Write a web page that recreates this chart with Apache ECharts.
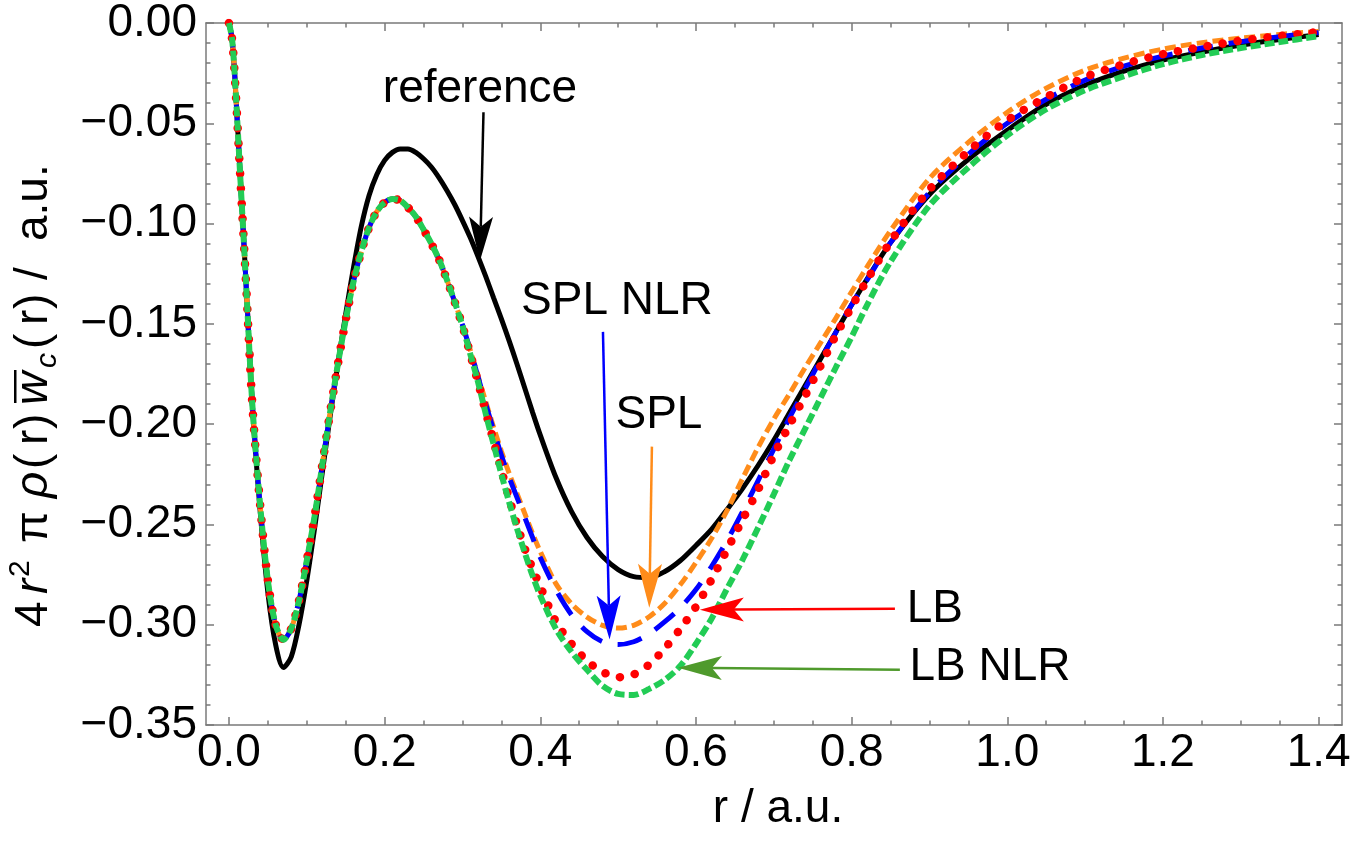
<!DOCTYPE html>
<html>
<head>
<meta charset="utf-8">
<script src="https://cdn.jsdelivr.net/npm/echarts@6.0.0/dist/echarts.min.js"></script>
<style>
  html, body { margin: 0; padding: 0; background: #fff; }
  #chart { width: 1355px; height: 842px; }
</style>
</head>
<body>
<div id="chart"></div>
<script>
// r grid (a.u.) shared by every curve
const rValues = [
  0, 0.004, 0.008, 0.015, 0.022,
  0.03, 0.04, 0.05, 0.06, 0.07, 0.08, 0.09, 0.10, 0.11, 0.12, 0.13, 0.14, 0.15, 0.16, 0.17,
  0.18, 0.19, 0.20, 0.21, 0.22, 0.23, 0.24, 0.25, 0.26, 0.27, 0.28, 0.29, 0.30, 0.31, 0.32,
  0.33, 0.34, 0.35, 0.36, 0.37, 0.38, 0.39, 0.40,
  0.42, 0.44, 0.46, 0.48, 0.50, 0.52, 0.54, 0.56, 0.58, 0.60, 0.62, 0.64, 0.66, 0.68, 0.70,
  0.72, 0.74, 0.76, 0.78, 0.80, 0.82,
  0.85, 0.90, 0.95, 1.00, 1.05, 1.10, 1.15, 1.20, 1.25, 1.30, 1.35, 1.40
]

// reference curve (black, solid)
const referenceValues = [
  0, -0.008, -0.03, -0.08, -0.13,
  -0.19, -0.243, -0.284, -0.310, -0.3213, -0.316, -0.300, -0.278, -0.252, -0.224, -0.196, -0.170, -0.145, -0.122, -0.1015,
  -0.086, -0.0755, -0.0685, -0.0645, -0.0628, -0.0628, -0.0645, -0.0677, -0.0718, -0.0772, -0.0835, -0.0905, -0.0985, -0.107, -0.1165,
  -0.1265, -0.137, -0.1475, -0.1585, -0.170, -0.182, -0.194, -0.2055,
  -0.2265, -0.2435, -0.2565, -0.266, -0.2725, -0.276, -0.2765, -0.2735, -0.268, -0.2605, -0.2525, -0.2425, -0.232, -0.2205, -0.208,
  -0.1945, -0.181, -0.1675, -0.154, -0.1405, -0.1275,
  -0.1095, -0.0855, -0.068, -0.0535, -0.0405, -0.031, -0.024, -0.0185, -0.0145, -0.011, -0.0082, -0.0058
]

// the four approximations coincide up to r = 0.29
const sharedCore = [
  0, -0.008, -0.03, -0.08, -0.13,
  -0.19, -0.24, -0.278, -0.300, -0.3075, -0.302, -0.288, -0.268, -0.246, -0.220, -0.194, -0.170, -0.148, -0.129, -0.114,
  -0.102, -0.094, -0.0895, -0.0878, -0.0885, -0.092, -0.0965, -0.103, -0.110, -0.118, -0.128, -0.139
]

// r = 0.30 ... 1.40
const splTail = [
  -0.1505, -0.163, -0.176, -0.189, -0.2015, -0.2135, -0.2245, -0.2345, -0.2445, -0.2545, -0.2635,
  -0.2795, -0.2895, -0.2962, -0.3003, -0.3017, -0.3003, -0.296, -0.2893, -0.280, -0.269, -0.257, -0.243, -0.227, -0.2115, -0.1975,
  -0.185, -0.172, -0.1595, -0.147, -0.134, -0.1215,
  -0.1035, -0.0775, -0.0595, -0.0445, -0.0325, -0.0235, -0.0175, -0.013, -0.0098, -0.0075, -0.0057, -0.0042
]
const splNlrTail = [
  -0.1505, -0.163, -0.1765, -0.190, -0.203, -0.2155, -0.2265, -0.2365, -0.2465, -0.2565, -0.2665,
  -0.2825, -0.295, -0.3035, -0.3085, -0.3099, -0.3085, -0.3045, -0.2985, -0.2915, -0.2825, -0.271, -0.258, -0.2435, -0.228, -0.2125,
  -0.197, -0.1825, -0.168, -0.154, -0.1405, -0.128,
  -0.1095, -0.0845, -0.0655, -0.050, -0.038, -0.0285, -0.0215, -0.0165, -0.0125, -0.0093, -0.0068, -0.0048
]
const lbTail = [
  -0.151, -0.165, -0.179, -0.194, -0.2085, -0.223, -0.237, -0.250, -0.262, -0.272, -0.281,
  -0.2985, -0.3095, -0.318, -0.3235, -0.3262, -0.3248, -0.3198, -0.3118, -0.302, -0.291, -0.2775, -0.2625, -0.2475, -0.2325, -0.2155,
  -0.2005, -0.186, -0.171, -0.1555, -0.1415, -0.128,
  -0.109, -0.083, -0.064, -0.0485, -0.037, -0.027, -0.0205, -0.0155, -0.012, -0.0088, -0.0065, -0.0045
]
const lbNlrTail = [
  -0.151, -0.165, -0.179, -0.195, -0.210, -0.225, -0.239, -0.252, -0.264, -0.2755, -0.2855,
  -0.302, -0.3135, -0.3225, -0.3305, -0.3345, -0.335, -0.332, -0.3275, -0.3205, -0.3095, -0.297, -0.282, -0.2675, -0.2515, -0.235,
  -0.218, -0.2025, -0.187, -0.1715, -0.1565, -0.1405,
  -0.119, -0.091, -0.072, -0.056, -0.043, -0.0335, -0.0265, -0.0205, -0.016, -0.0125, -0.0095, -0.0065
]

const xMajorTicks = [0, 0.2, 0.4, 0.6, 0.8, 1.0, 1.2, 1.4]
const xMinorTicks = [0.05, 0.1, 0.15, 0.25, 0.3, 0.35, 0.45, 0.5, 0.55, 0.65, 0.7, 0.75, 0.85, 0.9, 0.95, 1.05, 1.1, 1.15, 1.25, 1.3, 1.35]

// annotations: label text, label anchor [r, value], arrow start, arrow tip, colours
const annotationLabels = ['reference', 'SPL NLR', 'SPL', 'LB', 'LB NLR']
const labelAnchors = [[0.3225, -0.0330], [0.4985, -0.1389], [0.5524, -0.1958], [0.907, -0.2925], [0.9777, -0.3214]]
const arrowStarts = [[0.327, -0.0445], [0.4805, -0.154], [0.5434, -0.2112], [0.8556, -0.2921], [0.862, -0.3224]]
const arrowTips = [[0.3225, -0.1185], [0.489, -0.3074], [0.540, -0.2916], [0.605, -0.2925], [0.5768, -0.3214]]
const arrowColors = ['#000000', '#0000ff', '#ff8c1a', '#ff0000', '#4f9a2c']

// y-axis title pieces: text, offset along the title, size, italic, kind
const yTitlePieces = [
  ['4', 0, 46, false, 'n'],
  ['r', 33, 46, true, 'n'],
  ['2', 50, 30, false, 'sup'],
  ['\u03c0', 84, 46, false, 'n'],
  ['\u03c1', 129, 46, true, 'n'],
  ['(', 158, 46, false, 'n'],
  ['r', 182, 46, false, 'n'],
  [')', 198, 46, false, 'n'],
  ['w', 222, 46, true, 'n'],
  ['c', 259, 30, true, 'sub'],
  ['(', 278, 46, false, 'n'],
  ['r', 302, 46, false, 'n'],
  [')', 318, 46, false, 'n'],
  ['/', 347, 46, false, 'n'],
  ['a.u.', 386, 46, false, 'n']
]

const FONT = 'Liberation Sans, Arial, Helvetica, sans-serif'
const AXIS_GRAY = '#7a7a7a'

const join = (rs, vs) => rs.map((r, i) => [r, vs[i]])
const fmtY = v => (Math.abs(v) < 1e-9 ? '0.00' : '\u2212' + Math.abs(v).toFixed(2))

const chart = echarts.init(document.getElementById('chart'))

const xMin = -0.0295
const xMax = 1.43

function xAxisDef(position, ticks, tickLen, withLine, withLabel) {
  return {
    type: 'value',
    position,
    min: xMin,
    max: xMax,
    axisLine: { show: withLine, onZero: false, lineStyle: { color: AXIS_GRAY, width: 1.5 } },
    axisTick: { show: true, inside: true, length: tickLen, customValues: ticks, lineStyle: { color: AXIS_GRAY, width: 1.5 } },
    axisLabel: withLabel ? {
      show: true,
      customValues: ticks,
      formatter: v => v.toFixed(1),
      fontSize: 46,
      fontFamily: FONT,
      color: '#000',
      margin: 5
    } : { show: false },
    splitLine: { show: false }
  }
}

function yAxisDef(position, withLabel) {
  return {
    type: 'value',
    position,
    min: -0.35,
    max: 0,
    interval: 0.05,
    axisLine: { show: true, onZero: false, lineStyle: { color: AXIS_GRAY, width: 1.5 } },
    axisTick: { show: true, inside: true, length: 8, lineStyle: { color: AXIS_GRAY, width: 1.5 } },
    minorTick: { show: true, splitNumber: 5, length: 4.5, lineStyle: { color: AXIS_GRAY, width: 1.5 } },
    axisLabel: withLabel ? {
      show: true,
      formatter: fmtY,
      fontSize: 46,
      fontFamily: FONT,
      color: '#000',
      margin: 9
    } : { show: false },
    splitLine: { show: false }
  }
}

function lineSeries(name, values, color, width, dash, cap) {
  return {
    name,
    type: 'line',
    data: join(rValues, values),
    showSymbol: false,
    smooth: 0.3,
    lineStyle: { color, width, type: dash, cap: cap || 'butt' },
    animation: false
  }
}

const arrowData = arrowStarts.map((s, i) => [s[0], s[1], arrowTips[i][0], arrowTips[i][1]])
const labelData = labelAnchors.map(a => [a[0], a[1]])

// y title drawn as a rotated group so the overline sits over the w
const yTitleChildren = yTitlePieces.map(p => {
  const [text, offset, size, italic, kind] = p
  const baseline = kind === 'sup' ? -19 : (kind === 'sub' ? 8 : 0)
  return {
    type: 'text',
    x: offset,
    y: baseline - 0.347 * size,
    style: {
      text,
      font: (italic ? 'italic ' : '') + size + 'px ' + FONT,
      fill: '#000',
      align: 'left',
      verticalAlign: 'middle'
    }
  }
})
yTitleChildren.push({
  type: 'rect',
  shape: { x: 224, y: -36, width: 33, height: 2.5 },
  style: { fill: '#000' }
})

const option = {
  animation: false,
  backgroundColor: '#fff',
  grid: { left: 206, right: 13, top: 23, bottom: 117, containLabel: false },
  xAxis: [
    xAxisDef('bottom', xMajorTicks, 8, true, true),
    xAxisDef('bottom', xMinorTicks, 4.5, false, false),
    xAxisDef('top', xMajorTicks, 8, true, false),
    xAxisDef('top', xMinorTicks, 4.5, false, false)
  ],
  yAxis: [yAxisDef('left', true), yAxisDef('right', false)],
  series: [
    lineSeries('reference', referenceValues, '#000000', 5, 'solid'),
    lineSeries('SPL', sharedCore.concat(splTail), '#ff8c1a', 5, [11, 5]),
    lineSeries('SPL NLR', sharedCore.concat(splNlrTail), '#0000ff', 5, [25, 16]),
    lineSeries('LB', sharedCore.concat(lbTail), '#ff0000', 8.5, [0.1, 15], 'round'),
    lineSeries('LB NLR', sharedCore.concat(lbNlrTail), '#22cc55', 6, [10, 4]),
    {
      name: 'arrows',
      type: 'custom',
      data: arrowData,
      encode: { x: [0, 2], y: [1, 3] },
      clip: false,
      z: 5,
      renderItem: function (params, api) {
        const p1 = api.coord([api.value(0), api.value(1)])
        const p2 = api.coord([api.value(2), api.value(3)])
        const color = arrowColors[params.dataIndex]
        const dx = p2[0] - p1[0]
        const dy = p2[1] - p1[1]
        const len = Math.sqrt(dx * dx + dy * dy)
        const ux = dx / len
        const uy = dy / len
        const headL = 44
        const headW = 24
        const notch = 10
        const bx = p2[0] - ux * headL
        const by = p2[1] - uy * headL
        const nx = -uy
        const ny = ux
        const inner = [p2[0] - ux * (headL - notch), p2[1] - uy * (headL - notch)]
        return {
          type: 'group',
          children: [
            {
              type: 'line',
              shape: { x1: p1[0], y1: p1[1], x2: inner[0], y2: inner[1] },
              style: { stroke: color, lineWidth: 2.5 }
            },
            {
              type: 'polygon',
              shape: { points: [p2, [bx + nx * headW / 2, by + ny * headW / 2], inner, [bx - nx * headW / 2, by - ny * headW / 2]] },
              style: { fill: color }
            }
          ]
        }
      }
    },
    {
      name: 'labels',
      type: 'custom',
      data: labelData,
      encode: { x: 0, y: 1 },
      clip: false,
      z: 6,
      renderItem: function (params, api) {
        const p = api.coord([api.value(0), api.value(1)])
        return {
          type: 'text',
          x: p[0],
          y: p[1],
          style: {
            text: annotationLabels[params.dataIndex],
            font: '46px ' + FONT,
            fill: '#000',
            align: 'center',
            verticalAlign: 'middle'
          }
        }
      }
    }
  ],
  graphic: [
    {
      type: 'group',
      x: 50,
      y: 627,
      rotation: Math.PI / 2,
      children: yTitleChildren
    },
    {
      type: 'text',
      x: 778,
      y: 809,
      style: {
        text: 'r / a.u.',
        font: '46px ' + FONT,
        fill: '#000',
        align: 'center',
        verticalAlign: 'middle'
      }
    }
  ]
}

chart.setOption(option)
</script>
</body>
</html>
